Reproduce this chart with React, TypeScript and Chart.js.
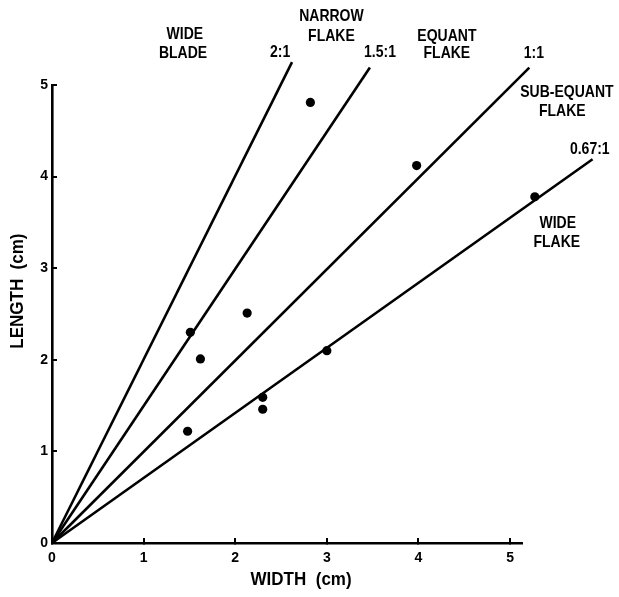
import React, { useEffect, useRef } from "react";
import { Chart, registerables } from "chart.js";

Chart.register(...registerables);

// Flake measurements (cm)
const widths = [1.51, 1.62, 1.48, 2.13, 2.30, 2.30, 3.00, 2.82, 3.98, 5.27];
const lengths = [2.30, 2.01, 1.22, 2.51, 1.59, 1.46, 2.10, 4.81, 4.12, 3.78];

// Ratio lines from the origin (length:width)
const ratioLabels = ["2:1", "1.5:1", "1:1", "0.67:1"];
const lineEndX = [2.62, 3.47, 5.21, 5.9];
const lineEndY = [5.25, 5.19, 5.19, 4.19];

// Text annotations placed in data coordinates
const noteTexts = [
  "WIDE", "BLADE", "2:1",
  "NARROW", "FLAKE", "1.5:1",
  "EQUANT", "FLAKE", "1:1",
  "SUB-EQUANT", "FLAKE", "0.67:1",
  "WIDE", "FLAKE",
];
const noteX = [1.45, 1.43, 2.49, 3.05, 3.05, 3.58, 4.31, 4.31, 5.26, 5.62, 5.57, 5.87, 5.52, 5.51];
const noteY = [5.55, 5.34, 5.35, 5.75, 5.53, 5.35, 5.53, 5.34, 5.34, 4.92, 4.71, 4.30, 3.49, 3.28];

const xTicks = [0, 1, 2, 3, 4, 5];
const yTicks = [0, 1, 2, 3, 4, 5];
const xTitle = "WIDTH  (cm)";
const yTitle = "LENGTH  (cm)";

const FONT = "'Liberation Sans', Arial, sans-serif";

export default function App() {
  const ref = useRef<HTMLCanvasElement | null>(null);

  useEffect(() => {
    if (!ref.current) return;
    let savedArea: any = null;
    const notesPlugin = {
      id: "notes",
      beforeDatasetsDraw(chart: any) {
        // let marks lying past the axis ends (as in the original) be drawn
        savedArea = chart.chartArea;
        chart.chartArea = { left: 0, top: 0, right: chart.width, bottom: chart.height, width: chart.width, height: chart.height };
      },
      afterDatasetsDraw(chart: any) {
        if (savedArea) chart.chartArea = savedArea;
        const { ctx, scales, chartArea } = chart;
        ctx.save();
        ctx.fillStyle = "#000";
        ctx.textAlign = "center";
        ctx.textBaseline = "middle";
        ctx.font = `bold 14px ${FONT}`;
        noteTexts.forEach((t, i) => {
          ctx.save();
          ctx.translate(scales.x.getPixelForValue(noteX[i]), scales.y.getPixelForValue(noteY[i]));
          ctx.scale(1, 1.15);
          ctx.fillText(t, 0, 0);
          ctx.restore();
        });
        // axis titles
        ctx.font = `bold 17px ${FONT}`;
        ctx.save();
        ctx.translate(chartArea.left + (chartArea.right - chartArea.left) * 0.53, chart.height - 17);
        ctx.scale(1, 1.1);
        ctx.fillText(xTitle, 0, 0);
        ctx.restore();
        ctx.save();
        ctx.translate(18, chartArea.top + (chartArea.bottom - chartArea.top) * 0.45);
        ctx.rotate(-Math.PI / 2);
        ctx.scale(1, 1.1);
        ctx.fillText(yTitle, 0, 0);
        ctx.restore();
        ctx.restore();
      },
    };

    const lineSets = ratioLabels.map((lab, i) => ({
      type: "line" as const,
      label: lab,
      data: [
        { x: 0, y: 0 },
        { x: lineEndX[i], y: lineEndY[i] },
      ],
      borderColor: "#000",
      borderWidth: 2.6,
      pointRadius: 0,
      showLine: true,
      fill: false,
      clip: false as any,
    }));

    const chart = new Chart(ref.current, {
      type: "scatter",
      data: {
        datasets: [
          ...lineSets,
          {
            type: "scatter" as const,
            label: "Flakes",
            data: widths.map((w, i) => ({ x: w, y: lengths[i] })),
            backgroundColor: "#000",
            borderColor: "#000",
            borderWidth: 0,
            pointRadius: 4.6,
            clip: false as any,
          },
        ] as any,
      },
      options: {
        responsive: false,
        animation: false,
        layout: { padding: { left: 0, top: 85, right: 97, bottom: 0 } },
        plugins: { legend: { display: false }, tooltip: { enabled: false } },
        scales: {
          x: {
            type: "linear",
            min: 0,
            max: 5.13,
            afterFit: (s: any) => {
              s.height = 54;
            },
            afterBuildTicks: (s: any) => {
              s.ticks = xTicks.map((v) => ({ value: v }));
            },
            ticks: {
              color: "#000",
              font: { family: FONT, weight: "bold", size: 14 },
              padding: 12,
              maxRotation: 0,
            },
            grid: {
              drawOnChartArea: false,
              drawTicks: true,
              tickLength: -5,
              color: "#000",
              lineWidth: 2,
            },
            border: { color: "#000", width: 2.6 },
            title: { display: false },
          },
          y: {
            type: "linear",
            min: 0,
            max: 5,
            afterFit: (s: any) => {
              s.width = 52;
            },
            afterBuildTicks: (s: any) => {
              s.ticks = yTicks.map((v) => ({ value: v }));
            },
            ticks: {
              color: "#000",
              font: { family: FONT, weight: "bold", size: 14 },
              padding: 9,
            },
            grid: {
              drawOnChartArea: false,
              drawTicks: true,
              tickLength: -5,
              color: "#000",
              lineWidth: 2,
            },
            border: { color: "#000", width: 2.6 },
            title: { display: false },
          },
        },
      },
      plugins: [notesPlugin],
    } as any);
    return () => chart.destroy();
  }, []);

  return (
    <div style={{ position: "fixed", left: 0, top: 0, width: 619, height: 597, background: "#fff" }}>
      <canvas ref={ref} width={619} height={597} style={{ display: "block" }} />
    </div>
  );
}
